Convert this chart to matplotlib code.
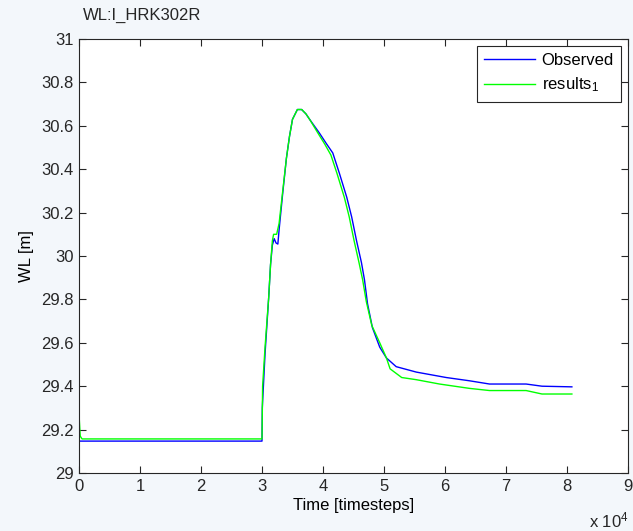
import matplotlib
matplotlib.use("Agg")
import matplotlib.pyplot as plt
from matplotlib.ticker import FuncFormatter, MultipleLocator

plt.rcParams['font.family'] = ['Liberation Sans', 'DejaVu Sans']
plt.rcParams['mathtext.fontset'] = 'custom'
plt.rcParams['mathtext.rm'] = 'Liberation Sans'
plt.rcParams['mathtext.it'] = 'Liberation Sans'
plt.rcParams['mathtext.default'] = 'regular'

title = "WL:I_HRK302R"
xlabel = "Time [timesteps]"
ylabel = "WL [m]"
series_names = ["Observed", "results$_1$"]

obs_t = [0, 3.00, 3.005, 3.05, 3.11, 3.14, 3.17, 3.20, 3.23, 3.26, 3.28, 3.34, 3.40,
         3.45, 3.50, 3.58, 3.65, 3.72, 3.78, 3.94, 4.05, 4.16, 4.27, 4.39, 4.47,
         4.55, 4.63, 4.68, 4.73, 4.81, 4.93, 5.04, 5.20, 5.53, 6.02, 6.40,
         6.73, 7.33, 7.59, 8.08]
obs_wl = [29.147, 29.147, 29.30, 29.55, 29.81, 29.96, 30.05, 30.08, 30.06, 30.055,
          30.12, 30.29, 30.45, 30.55, 30.63, 30.675, 30.675, 30.655, 30.63, 30.567,
          30.52, 30.475, 30.38, 30.27, 30.18, 30.07, 29.97, 29.89, 29.78, 29.67,
          29.58, 29.53, 29.49, 29.465, 29.44, 29.425, 29.41, 29.41, 29.40, 29.397]

res_t = [0, 0.02, 0.05, 3.00, 3.01, 3.05, 3.11, 3.14, 3.17, 3.19, 3.24, 3.28, 3.34,
         3.40, 3.45, 3.50, 3.58, 3.65, 3.72, 3.78, 3.92, 4.03, 4.13, 4.23, 4.35,
         4.43, 4.51, 4.59, 4.65, 4.71, 4.80, 4.93, 5.04, 5.10, 5.29, 5.53, 5.91,
         6.40, 6.73, 7.33, 7.59, 8.08]
res_wl = [29.27, 29.17, 29.157, 29.157, 29.40, 29.58, 29.81, 29.96, 30.07, 30.10,
          30.10, 30.15, 30.30, 30.45, 30.55, 30.63, 30.675, 30.675, 30.655, 30.63,
          30.565, 30.515, 30.465, 30.38, 30.27, 30.18, 30.07, 29.97, 29.89, 29.79,
          29.68, 29.60, 29.53, 29.48, 29.44, 29.43, 29.41, 29.39, 29.38, 29.38,
          29.364, 29.364]

obs_x = [v * 1e4 for v in obs_t]
res_x = [v * 1e4 for v in res_t]

bg = '#f3f7fb'
fs = 12
fig = plt.figure(figsize=(6.33, 5.31), dpi=100, facecolor=bg)
ax = fig.add_axes([79/633, 1-473/531, (628-79)/633, (473-39)/531])
ax.set_facecolor('white')

ax.plot(obs_x, obs_wl, color='#0000ff', lw=1.0, label=series_names[0])
ax.plot(res_x, res_wl, color='#00ff00', lw=1.0, label=series_names[1])

ax.set_xlim(0, 90000)
ax.set_ylim(29, 31)
ax.xaxis.set_major_locator(MultipleLocator(10000))
ax.yaxis.set_major_locator(MultipleLocator(0.2))
ax.xaxis.set_major_formatter(FuncFormatter(lambda v, p: f"{v/1e4:g}"))
ax.yaxis.set_major_formatter(FuncFormatter(lambda v, p: f"{round(v, 1):g}"))
ax.tick_params(direction='in', length=5, width=0.8, top=True, right=True,
               labelsize=fs, pad=4, colors='#262626')
for s in ax.spines.values():
    s.set_color('#262626')
    s.set_linewidth(0.8)

ax.set_xlabel(xlabel, fontsize=fs, labelpad=3)
ax.set_ylabel(ylabel, fontsize=fs, labelpad=5)
fig.text(83/633, 1-15/531, title, fontsize=fs, ha='left', va='center', color='#262626')
fig.text(589/633, 1-520/531, "x 10$^4$", fontsize=fs, ha='left', va='center', color='#262626')

leg = ax.legend(loc='upper right', fontsize=fs, frameon=True, fancybox=False,
                edgecolor='#262626', framealpha=1, borderaxespad=0.4,
                handlelength=3.05, handletextpad=0.4, labelspacing=0.45,
                borderpad=0.45)
leg.get_frame().set_linewidth(0.8)

fig.savefig("out.png", dpi=100, facecolor=bg)
